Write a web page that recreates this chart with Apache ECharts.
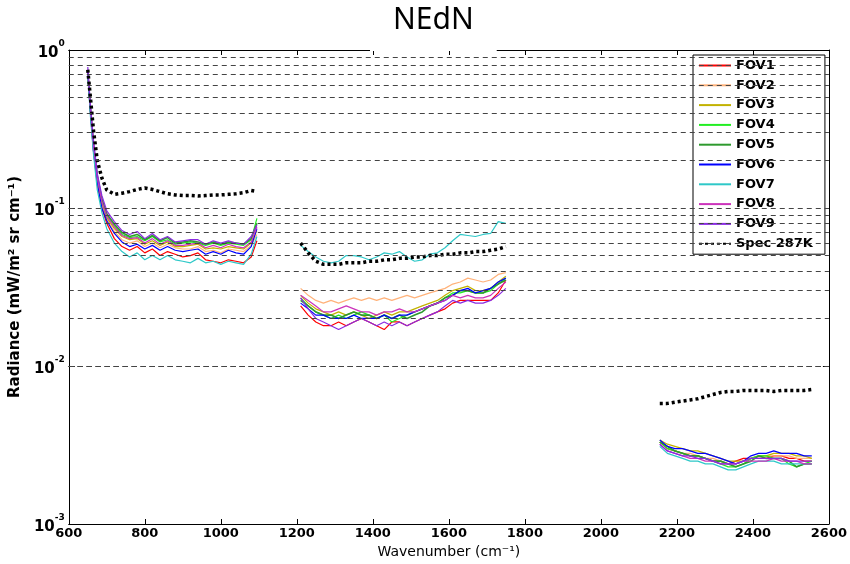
<!DOCTYPE html>
<html>
  <head>
    <meta charset="utf-8" />
    <title>NEdN</title>
    <script src="https://cdn.jsdelivr.net/npm/echarts@6/dist/echarts.min.js"></script>
    <style>
      * {
        padding: 0;
        margin: 0;
      }
      #chart-panel {
        width: 850px;
        height: 564px;
        background: #fff;
      }
    </style>
  </head>
  <body>
    <div id="chart-panel"></div>
    <script type="text/javascript">
      var myChart = echarts.init(document.getElementById("chart-panel"));

      // wavenumber samples of the three bands (cm-1)
      const lwWn = [650, 657, 665, 675, 687, 700, 720, 740, 760, 780, 800, 820, 840, 860, 880, 900, 920, 940, 960, 980, 1000, 1020, 1040, 1060, 1080, 1095];
      const mwWn = [1210, 1230, 1250, 1270, 1290, 1310, 1330, 1350, 1370, 1390, 1410, 1430, 1450, 1470, 1490, 1510, 1530, 1550, 1570, 1590, 1610, 1630, 1650, 1670, 1690, 1710, 1730, 1750];
      const swWn = [2155, 2175, 2195, 2215, 2235, 2255, 2275, 2295, 2315, 2335, 2355, 2375, 2395, 2415, 2435, 2455, 2475, 2495, 2515, 2535, 2555];

      const fovNames = ["FOV1", "FOV2", "FOV3", "FOV4", "FOV5", "FOV6", "FOV7", "FOV8", "FOV9"];
      const specName = "Spec 287K";

      // NEdN per FOV, longwave band
      const fovLw = [
        [0.72, 0.40, 0.23, 0.14, 0.100, 0.080, 0.064, 0.057, 0.054, 0.057, 0.052, 0.055, 0.050, 0.053, 0.051, 0.049, 0.050, 0.052, 0.047, 0.046, 0.045, 0.047, 0.046, 0.045, 0.049, 0.062],
        [0.73, 0.41, 0.24, 0.15, 0.105, 0.085, 0.071, 0.063, 0.060, 0.062, 0.057, 0.060, 0.056, 0.059, 0.056, 0.055, 0.055, 0.057, 0.053, 0.054, 0.052, 0.055, 0.054, 0.053, 0.058, 0.068],
        [0.72, 0.42, 0.25, 0.15, 0.108, 0.087, 0.074, 0.066, 0.063, 0.064, 0.059, 0.062, 0.058, 0.061, 0.057, 0.057, 0.058, 0.059, 0.055, 0.056, 0.055, 0.057, 0.056, 0.055, 0.060, 0.072],
        [0.74, 0.43, 0.25, 0.16, 0.112, 0.090, 0.077, 0.068, 0.065, 0.066, 0.062, 0.066, 0.061, 0.063, 0.059, 0.060, 0.061, 0.060, 0.058, 0.060, 0.058, 0.060, 0.059, 0.058, 0.063, 0.086],
        [0.73, 0.42, 0.25, 0.16, 0.114, 0.092, 0.079, 0.070, 0.066, 0.068, 0.063, 0.067, 0.062, 0.065, 0.060, 0.061, 0.062, 0.061, 0.059, 0.061, 0.059, 0.061, 0.060, 0.059, 0.064, 0.080],
        [0.72, 0.40, 0.23, 0.145, 0.100, 0.083, 0.069, 0.061, 0.057, 0.059, 0.055, 0.058, 0.054, 0.057, 0.054, 0.053, 0.054, 0.055, 0.051, 0.053, 0.051, 0.054, 0.052, 0.051, 0.057, 0.074],
        [0.70, 0.38, 0.22, 0.13, 0.094, 0.074, 0.060, 0.053, 0.049, 0.052, 0.047, 0.050, 0.047, 0.050, 0.047, 0.046, 0.045, 0.048, 0.045, 0.046, 0.044, 0.046, 0.045, 0.044, 0.051, 0.066],
        [0.75, 0.43, 0.25, 0.155, 0.110, 0.089, 0.076, 0.067, 0.064, 0.065, 0.060, 0.064, 0.059, 0.062, 0.058, 0.058, 0.059, 0.060, 0.056, 0.058, 0.056, 0.059, 0.057, 0.056, 0.061, 0.076],
        [0.78, 0.45, 0.27, 0.165, 0.120, 0.096, 0.082, 0.072, 0.068, 0.071, 0.064, 0.069, 0.063, 0.066, 0.061, 0.062, 0.063, 0.063, 0.059, 0.062, 0.060, 0.062, 0.060, 0.059, 0.066, 0.078],
      ];

      // midwave band
      const fovMw = [
        [0.024, 0.021, 0.019, 0.018, 0.018, 0.019, 0.018, 0.019, 0.020, 0.019, 0.018, 0.017, 0.019, 0.019, 0.018, 0.019, 0.020, 0.021, 0.022, 0.023, 0.025, 0.026, 0.026, 0.026, 0.026, 0.026, 0.029, 0.035],
        [0.031, 0.028, 0.026, 0.025, 0.026, 0.025, 0.026, 0.027, 0.026, 0.027, 0.026, 0.027, 0.026, 0.027, 0.028, 0.027, 0.028, 0.029, 0.030, 0.031, 0.033, 0.034, 0.036, 0.035, 0.034, 0.035, 0.038, 0.039],
        [0.028, 0.025, 0.023, 0.022, 0.021, 0.022, 0.021, 0.022, 0.021, 0.020, 0.021, 0.022, 0.021, 0.022, 0.022, 0.023, 0.024, 0.025, 0.026, 0.028, 0.030, 0.031, 0.032, 0.030, 0.030, 0.031, 0.034, 0.037],
        [0.027, 0.024, 0.022, 0.021, 0.020, 0.021, 0.020, 0.021, 0.022, 0.021, 0.020, 0.021, 0.019, 0.020, 0.021, 0.022, 0.023, 0.024, 0.025, 0.027, 0.029, 0.029, 0.030, 0.029, 0.029, 0.030, 0.033, 0.036],
        [0.026, 0.024, 0.022, 0.021, 0.021, 0.020, 0.021, 0.022, 0.021, 0.021, 0.020, 0.021, 0.020, 0.021, 0.020, 0.021, 0.022, 0.024, 0.025, 0.027, 0.028, 0.030, 0.030, 0.029, 0.029, 0.031, 0.033, 0.035],
        [0.025, 0.023, 0.021, 0.021, 0.020, 0.020, 0.020, 0.021, 0.020, 0.020, 0.020, 0.021, 0.020, 0.021, 0.021, 0.022, 0.023, 0.024, 0.025, 0.026, 0.028, 0.030, 0.031, 0.029, 0.030, 0.031, 0.034, 0.036],
        [0.058, 0.053, 0.049, 0.046, 0.045, 0.046, 0.050, 0.050, 0.049, 0.047, 0.049, 0.052, 0.051, 0.053, 0.049, 0.046, 0.047, 0.051, 0.052, 0.056, 0.062, 0.068, 0.067, 0.066, 0.068, 0.069, 0.082, 0.080],
        [0.028, 0.026, 0.024, 0.022, 0.022, 0.023, 0.024, 0.023, 0.022, 0.022, 0.021, 0.022, 0.022, 0.023, 0.022, 0.022, 0.023, 0.024, 0.025, 0.026, 0.028, 0.027, 0.028, 0.027, 0.027, 0.028, 0.031, 0.034],
        [0.027, 0.023, 0.020, 0.019, 0.018, 0.017, 0.018, 0.019, 0.020, 0.019, 0.018, 0.019, 0.018, 0.019, 0.018, 0.019, 0.020, 0.021, 0.022, 0.024, 0.026, 0.025, 0.026, 0.025, 0.025, 0.026, 0.028, 0.031],
      ];

      // shortwave band
      const fovSw = [
        [0.0033, 0.0030, 0.0029, 0.0028, 0.0027, 0.0027, 0.0026, 0.0025, 0.0025, 0.0024, 0.0025, 0.0026, 0.0026, 0.0026, 0.0026, 0.0027, 0.0027, 0.0026, 0.0026, 0.0025, 0.0025],
        [0.0033, 0.0031, 0.0029, 0.0028, 0.0028, 0.0027, 0.0026, 0.0026, 0.0025, 0.0024, 0.0024, 0.0025, 0.0026, 0.0027, 0.0027, 0.0027, 0.0027, 0.0027, 0.0026, 0.0026, 0.0026],
        [0.0034, 0.0032, 0.0031, 0.0030, 0.0029, 0.0029, 0.0028, 0.0027, 0.0026, 0.0025, 0.0025, 0.0025, 0.0026, 0.0027, 0.0027, 0.0028, 0.0028, 0.0028, 0.0027, 0.0027, 0.0026],
        [0.0033, 0.0030, 0.0029, 0.0028, 0.0027, 0.0027, 0.0026, 0.0025, 0.0024, 0.0023, 0.0023, 0.0024, 0.0026, 0.0027, 0.0027, 0.0026, 0.0026, 0.0024, 0.0023, 0.0024, 0.0025],
        [0.0033, 0.0031, 0.0029, 0.0028, 0.0027, 0.0027, 0.0026, 0.0025, 0.0025, 0.0024, 0.0023, 0.0024, 0.0025, 0.0027, 0.0026, 0.0026, 0.0026, 0.0025, 0.0023, 0.0024, 0.0024],
        [0.0034, 0.0031, 0.0030, 0.0030, 0.0029, 0.0028, 0.0028, 0.0027, 0.0026, 0.0025, 0.0024, 0.0025, 0.0027, 0.0028, 0.0028, 0.0029, 0.0028, 0.0028, 0.0028, 0.0027, 0.0027],
        [0.0031, 0.0028, 0.0027, 0.0026, 0.0025, 0.0025, 0.0024, 0.0024, 0.0023, 0.0022, 0.0022, 0.0023, 0.0024, 0.0025, 0.0025, 0.0025, 0.0024, 0.0024, 0.0024, 0.0024, 0.0024],
        [0.0032, 0.0029, 0.0028, 0.0027, 0.0026, 0.0026, 0.0025, 0.0025, 0.0024, 0.0024, 0.0024, 0.0025, 0.0025, 0.0025, 0.0025, 0.0026, 0.0025, 0.0025, 0.0025, 0.0024, 0.0024],
        [0.0032, 0.0029, 0.0028, 0.0027, 0.0027, 0.0026, 0.0026, 0.0025, 0.0024, 0.0024, 0.0024, 0.0025, 0.0026, 0.0026, 0.0026, 0.0026, 0.0026, 0.0025, 0.0025, 0.0025, 0.0025],
      ];

      // spec at 287K
      const specLw = [0.75, 0.50, 0.31, 0.20, 0.155, 0.13, 0.122, 0.124, 0.127, 0.131, 0.134, 0.131, 0.127, 0.123, 0.121, 0.120, 0.120, 0.119, 0.120, 0.121, 0.121, 0.122, 0.123, 0.125, 0.129, 0.127];
      const specMw = [0.060, 0.052, 0.046, 0.044, 0.044, 0.044, 0.045, 0.045, 0.045, 0.046, 0.046, 0.047, 0.047, 0.048, 0.048, 0.049, 0.049, 0.050, 0.050, 0.051, 0.051, 0.052, 0.052, 0.053, 0.053, 0.054, 0.055, 0.057];
      const specSw = [0.0058, 0.0058, 0.0059, 0.0060, 0.0061, 0.0062, 0.0064, 0.0066, 0.0068, 0.0069, 0.0069, 0.0070, 0.0070, 0.0070, 0.0070, 0.0069, 0.0070, 0.0070, 0.0070, 0.0070, 0.0071];

      // dashed grid levels (MATLAB log grid)
      const gridLevels = [
        0.002, 0.003, 0.004, 0.005, 0.006, 0.007, 0.008, 0.009, 0.01,
        0.02, 0.03, 0.04, 0.05, 0.06, 0.07, 0.08, 0.09, 0.1,
        0.2, 0.3, 0.4, 0.5, 0.6, 0.7, 0.8, 0.9,
      ];

      const fovColors = ["#ff0000", "#ffb27a", "#c2b200", "#22ee22", "#2e9a2e", "#0000ff", "#2ec8c8", "#cc33bb", "#8a2be2"];

      // join the three bands, with a null point so the line breaks between them
      function joinBands(lw, mw, sw) {
        var res = [];
        [[lwWn, lw], [mwWn, mw], [swWn, sw]].forEach(function (b, k) {
          if (k > 0) res.push([null, null]);
          for (var i = 0; i < b[0].length; i++) {
            res.push([b[0][i], b[1][i]]);
          }
        });
        return res;
      }

      var fontName = "DejaVu Sans";
      var series = [
        {
          name: "grid",
          type: "line",
          data: [],
          silent: true,
          markLine: {
            silent: true,
            symbol: ["none", "none"],
            label: { show: false },
            animation: false,
            lineStyle: { color: "#444", type: [5, 4], width: 1 },
            data: gridLevels.map(function (v) {
              return { yAxis: v };
            }),
          },
        },
      ];
      fovNames.forEach(function (name, i) {
        series.push({
          name: name,
          type: "line",
          symbol: "none",
          connectNulls: false,
          data: joinBands(fovLw[i], fovMw[i], fovSw[i]),
          lineStyle: { color: fovColors[i], width: i == 4 ? 1.6 : 1.2 },
          itemStyle: { color: fovColors[i] },
          emphasis: { disabled: true },
        });
      });
      series.push({
        name: specName,
        type: "line",
        symbol: "none",
        connectNulls: false,
        data: joinBands(specLw, specMw, specSw),
        lineStyle: { color: "#000", width: 3.5, type: [3, 3] },
        itemStyle: { color: "#000" },
        emphasis: { disabled: true },
      });

      var option = {
        animation: false,
        backgroundColor: "#fff",
        title: {
          text: "NEdN",
          left: 370,
          top: 0,
          padding: [5, 23, 16, 23],
          backgroundColor: "#fff",
          textStyle: {
            fontFamily: "Noto Sans",
            fontWeight: "normal",
            fontSize: 30,
            color: "#000",
          },
        },
        legend: {
          data: fovNames.concat([specName]),
          orient: "vertical",
          left: 693,
          top: 55,
          itemWidth: 32,
          itemHeight: 12,
          itemGap: 6.8,
          padding: [4, 12, 4, 5],
          backgroundColor: "#fff",
          borderColor: "#000",
          borderWidth: 1,
          borderRadius: 0,
          // hide the symbol drawn on the legend line
          itemStyle: { opacity: 0 },
          textStyle: {
            fontFamily: fontName,
            fontWeight: "bold",
            fontSize: 13,
            color: "#000",
          },
        },
        grid: {
          left: 68,
          right: 14,
          top: 50,
          bottom: 40,
        },
        xAxis: [
          {
            type: "value",
            min: 600,
            max: 2600,
            interval: 200,
            position: "bottom",
            name: "Wavenumber (cm\u207B\u00B9)",
            nameLocation: "middle",
            nameGap: 19,
            nameTextStyle: { fontFamily: fontName, fontSize: 14, color: "#000" },
            axisLine: { onZero: false, lineStyle: { color: "#000", width: 1 } },
            axisTick: { inside: true, length: 5, lineStyle: { color: "#000" } },
            axisLabel: {
              fontFamily: fontName,
              fontWeight: "bold",
              fontSize: 13,
              color: "#000",
              margin: 3,
              formatter: function (v) {
                return String(v);
              },
            },
            splitLine: { show: false },
          },
          {
            type: "value",
            min: 600,
            max: 2600,
            interval: 200,
            position: "top",
            axisLine: { onZero: false, lineStyle: { color: "#000", width: 1 } },
            axisTick: { inside: true, length: 5, lineStyle: { color: "#000" } },
            axisLabel: { show: false },
            splitLine: { show: false },
          },
        ],
        yAxis: [
          {
            type: "log",
            logBase: 10,
            min: 0.001,
            max: 1,
            position: "left",
            name: "Radiance (mW/m\u00B2 sr cm\u207B\u00B9)",
            nameLocation: "middle",
            nameRotate: 90,
            nameGap: 42,
            nameTextStyle: { fontFamily: fontName, fontWeight: "bold", fontSize: 15, color: "#000" },
            axisLine: { onZero: false, lineStyle: { color: "#000", width: 1 } },
            axisTick: { inside: true, length: 6, lineStyle: { color: "#000" } },
            axisLabel: {
              margin: 4,
              formatter: function (v) {
                var e = Math.round(Math.log10(v));
                return "{b|10}{s|" + e + "}";
              },
              rich: {
                b: { fontFamily: fontName, fontWeight: "bold", fontSize: 15, color: "#000", verticalAlign: "bottom", lineHeight: 22 },
                s: { fontFamily: fontName, fontWeight: "bold", fontSize: 9, color: "#000", verticalAlign: "top" },
              },
            },
            splitLine: { show: false },
          },
          {
            type: "log",
            logBase: 10,
            min: 0.001,
            max: 1,
            position: "right",
            axisLine: { onZero: false, lineStyle: { color: "#000", width: 1 } },
            axisTick: { inside: true, length: 6, lineStyle: { color: "#000" } },
            axisLabel: { show: false },
            splitLine: { show: false },
          },
        ],
        series: series,
      };

      if (option && typeof option === "object") {
        myChart.setOption(option);
      }
      window.addEventListener("resize", myChart.resize);
    </script>
  </body>
</html>
